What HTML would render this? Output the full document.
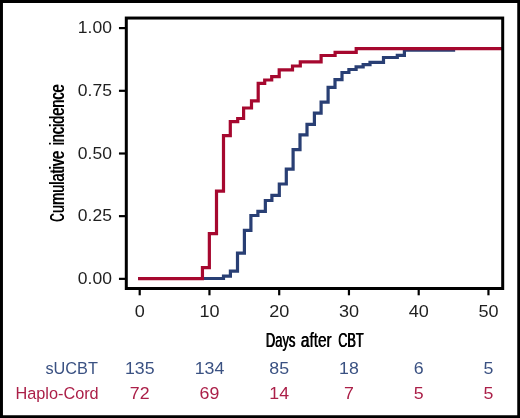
<!DOCTYPE html>
<html><head><meta charset="utf-8"><title>Cumulative incidence</title>
<style>html,body{margin:0;padding:0;background:#fff}svg{display:block}text{font-family:"Liberation Sans",sans-serif}</style></head>
<body>
<svg width="520" height="418" viewBox="0 0 520 418" style="will-change:transform">
<rect x="0" y="0" width="520" height="418" fill="#fff"/>
<path d="M0 0H520V418H0Z M2.95 2.95V415.15H517.25V2.95Z" fill="#000" fill-rule="evenodd"/>
<path d="M139.70 278.50 H223.50 V276.20 H230.40 V271.20 H237.50 V253.20 H244.40 V230.40 H250.90 V215.50 H257.90 V211.40 H265.35 V200.50 H271.90 V195.40 H279.30 V184.00 H286.30 V169.20 H293.10 V149.60 H300.00 V134.80 H307.00 V124.40 H314.40 V113.10 H321.10 V102.10 H328.10 V87.40 H335.00 V79.70 H342.00 V72.50 H348.90 V69.50 H356.10 V66.80 H363.15 V64.60 H370.00 V62.30 H383.50 V57.50 H397.30 V55.30 H404.40 V50.20 H453.57" fill="none" stroke="#293F74" stroke-width="3.2" stroke-linecap="square" stroke-linejoin="miter"/>
<path d="M139.70 278.70 H202.45 V267.60 H209.35 V233.60 H216.50 V191.20 H223.50 V135.60 H230.30 V121.70 H237.70 V118.50 H243.60 V108.00 H251.50 V100.80 H258.20 V83.30 H264.70 V80.00 H271.70 V76.60 H279.20 V69.80 H292.50 V66.00 H300.30 V61.80 H321.10 V55.50 H335.10 V52.30 H356.20 V48.70 H501.50" fill="none" stroke="#A6082F" stroke-width="3.2" stroke-linecap="square" stroke-linejoin="miter"/>
<rect x="126.3" y="18.05" width="376.4" height="270.45" fill="none" stroke="#000" stroke-width="3"/>
<line x1="118.95" x2="125" y1="28.10" y2="28.10" stroke="#000" stroke-width="2.2"/>
<line x1="118.95" x2="125" y1="90.80" y2="90.80" stroke="#000" stroke-width="2.2"/>
<line x1="118.95" x2="125" y1="153.50" y2="153.50" stroke="#000" stroke-width="2.2"/>
<line x1="118.95" x2="125" y1="216.15" y2="216.15" stroke="#000" stroke-width="2.2"/>
<line x1="118.95" x2="125" y1="278.85" y2="278.85" stroke="#000" stroke-width="2.2"/>
<line x1="139.70" x2="139.70" y1="289.5" y2="295.3" stroke="#000" stroke-width="2.2"/>
<line x1="209.45" x2="209.45" y1="289.5" y2="295.3" stroke="#000" stroke-width="2.2"/>
<line x1="279.20" x2="279.20" y1="289.5" y2="295.3" stroke="#000" stroke-width="2.2"/>
<line x1="348.95" x2="348.95" y1="289.5" y2="295.3" stroke="#000" stroke-width="2.2"/>
<line x1="418.70" x2="418.70" y1="289.5" y2="295.3" stroke="#000" stroke-width="2.2"/>
<line x1="488.45" x2="488.45" y1="289.5" y2="295.3" stroke="#000" stroke-width="2.2"/>
<text transform="translate(111.9 33.20) scale(1.062 1)" text-anchor="end" font-size="16.5" fill="#1f1f1f">1.00</text>
<text transform="translate(111.9 95.90) scale(1.062 1)" text-anchor="end" font-size="16.5" fill="#1f1f1f">0.75</text>
<text transform="translate(111.9 158.60) scale(1.062 1)" text-anchor="end" font-size="16.5" fill="#1f1f1f">0.50</text>
<text transform="translate(111.9 221.25) scale(1.062 1)" text-anchor="end" font-size="16.5" fill="#1f1f1f">0.25</text>
<text transform="translate(111.9 283.95) scale(1.062 1)" text-anchor="end" font-size="16.5" fill="#1f1f1f">0.00</text>
<text transform="translate(139.70 317.0) scale(1.095 1)" text-anchor="middle" font-size="16.5" fill="#1f1f1f">0</text>
<text transform="translate(209.45 317.0) scale(1.095 1)" text-anchor="middle" font-size="16.5" fill="#1f1f1f">10</text>
<text transform="translate(279.20 317.0) scale(1.095 1)" text-anchor="middle" font-size="16.5" fill="#1f1f1f">20</text>
<text transform="translate(348.95 317.0) scale(1.095 1)" text-anchor="middle" font-size="16.5" fill="#1f1f1f">30</text>
<text transform="translate(418.70 317.0) scale(1.095 1)" text-anchor="middle" font-size="16.5" fill="#1f1f1f">40</text>
<text transform="translate(488.45 317.0) scale(1.095 1)" text-anchor="middle" font-size="16.5" fill="#1f1f1f">50</text>
<text x="265.60" y="346.80" font-size="20" textLength="29.50" lengthAdjust="spacingAndGlyphs" fill="#000">Days</text>
<text x="266.20" y="346.80" font-size="20" textLength="29.50" lengthAdjust="spacingAndGlyphs" fill="#000">Days</text>
<text x="300.60" y="346.80" font-size="20" textLength="30.80" lengthAdjust="spacingAndGlyphs" fill="#000">after</text>
<text x="301.20" y="346.80" font-size="20" textLength="30.80" lengthAdjust="spacingAndGlyphs" fill="#000">after</text>
<text x="337.90" y="346.80" font-size="20" textLength="25.50" lengthAdjust="spacingAndGlyphs" fill="#000">CBT</text>
<text x="338.50" y="346.80" font-size="20" textLength="25.50" lengthAdjust="spacingAndGlyphs" fill="#000">CBT</text>
<text transform="translate(64.00 222.10) rotate(-90)" x="0" y="0" font-size="20" textLength="8.40" lengthAdjust="spacingAndGlyphs" fill="#000">C</text>
<text transform="translate(64.00 221.50) rotate(-90)" x="0" y="0" font-size="20" textLength="8.40" lengthAdjust="spacingAndGlyphs" fill="#000">C</text>
<text transform="translate(64.00 213.30) rotate(-90)" x="0" y="0" font-size="20" textLength="62.20" lengthAdjust="spacingAndGlyphs" fill="#000">umulative</text>
<text transform="translate(64.00 212.70) rotate(-90)" x="0" y="0" font-size="20" textLength="62.20" lengthAdjust="spacingAndGlyphs" fill="#000">umulative</text>
<text transform="translate(64.00 145.60) rotate(-90)" x="0" y="0" font-size="20" textLength="60.90" lengthAdjust="spacingAndGlyphs" fill="#000">incidence</text>
<text transform="translate(64.00 145.00) rotate(-90)" x="0" y="0" font-size="20" textLength="60.90" lengthAdjust="spacingAndGlyphs" fill="#000">incidence</text>
<text x="97.9" y="373.8" text-anchor="end" font-size="16.3" fill="#3A5182">sUCBT</text>
<text x="98.7" y="398.6" text-anchor="end" font-size="16.3" fill="#AB1F48">Haplo-Cord</text>
<text transform="translate(139.70 373.8) scale(1.09 1)" text-anchor="middle" font-size="16.3" fill="#3A5182">135</text>
<text transform="translate(139.70 398.6) scale(1.09 1)" text-anchor="middle" font-size="16.3" fill="#AB1F48">72</text>
<text transform="translate(209.45 373.8) scale(1.09 1)" text-anchor="middle" font-size="16.3" fill="#3A5182">134</text>
<text transform="translate(209.45 398.6) scale(1.09 1)" text-anchor="middle" font-size="16.3" fill="#AB1F48">69</text>
<text transform="translate(279.20 373.8) scale(1.09 1)" text-anchor="middle" font-size="16.3" fill="#3A5182">85</text>
<text transform="translate(279.20 398.6) scale(1.09 1)" text-anchor="middle" font-size="16.3" fill="#AB1F48">14</text>
<text transform="translate(348.95 373.8) scale(1.09 1)" text-anchor="middle" font-size="16.3" fill="#3A5182">18</text>
<text transform="translate(348.95 398.6) scale(1.09 1)" text-anchor="middle" font-size="16.3" fill="#AB1F48">7</text>
<text transform="translate(418.70 373.8) scale(1.09 1)" text-anchor="middle" font-size="16.3" fill="#3A5182">6</text>
<text transform="translate(418.70 398.6) scale(1.09 1)" text-anchor="middle" font-size="16.3" fill="#AB1F48">5</text>
<text transform="translate(488.45 373.8) scale(1.09 1)" text-anchor="middle" font-size="16.3" fill="#3A5182">5</text>
<text transform="translate(488.45 398.6) scale(1.09 1)" text-anchor="middle" font-size="16.3" fill="#AB1F48">5</text>
</svg>
</body></html>
